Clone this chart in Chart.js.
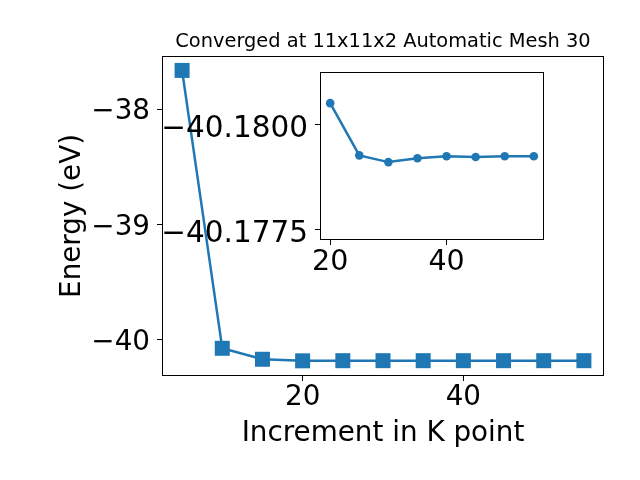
<!DOCTYPE html>
<html>
<head>
<meta charset="utf-8">
<title>K point convergence</title>
<script src="https://cdn.jsdelivr.net/npm/chart.js@4.4.1/dist/chart.umd.min.js"></script>
<style>
  html, body { margin: 0; padding: 0; background: #fff; }
  #wrap { position: relative; width: 640px; height: 480px; }
  #wrap canvas { position: absolute; left: 0; top: 0; }
</style>
</head>
<body>
<div id="wrap">
  <canvas id="main-chart" width="640" height="480"></canvas>
  <canvas id="inset-chart" width="640" height="480"></canvas>
</div>
<script>
// ============================================================
// K-point convergence: total energy vs. mesh increment
// ============================================================

// main series
const kPoints = [5, 10, 15, 20, 25, 30, 35, 40, 45, 50, 55];
const energy = [-37.664, -40.072, -40.167, -40.18050, -40.17926, -40.17910, -40.17919, -40.17924, -40.17922, -40.17924, -40.17924];

// inset: zoom on the converged tail
const insetK = [20, 25, 30, 35, 40, 45, 50, 55];
const insetEnergy = [-40.18050, -40.17926, -40.17910, -40.17919, -40.17924, -40.17922, -40.17924, -40.17924];

// tick labels
const mainXTicks = [20, 40];
const mainYTicks = [-40, -39, -38];
const insetXTicks = [20, 40];
const insetYTicks = [-40.1800, -40.1775];

const BLUE = '#1f77b4';
const FONT = 'DejaVu Sans';
const TICK_SIZE = 27.8;

const minus = s => String(s).replace('-', '\u2212');
const toPoints = (xs, ys) => xs.map((x, i) => ({ x, y: ys[i] }));
const fixTicks = list => scale => { scale.ticks = list.map(v => ({ value: v })); };

// white axes background + full box spines like matplotlib
const framePlugin = {
  id: 'frame',
  beforeDraw(chart, args, opts) {
    if (!opts.fill) return;
    const { ctx, chartArea: a } = chart;
    ctx.save();
    ctx.fillStyle = '#fff';
    ctx.fillRect(a.left, a.top, a.right - a.left, a.bottom - a.top);
    ctx.restore();
  },
  afterDatasetsDraw(chart) {
    const { ctx, chartArea: a } = chart;
    const l = Math.round(a.left) + 0.5, t = Math.round(a.top) + 0.5;
    const r = Math.round(a.right) - 0.5, b = Math.round(a.bottom) - 0.5;
    ctx.save();
    ctx.strokeStyle = '#000';
    ctx.lineWidth = 1;
    ctx.strokeRect(l, t, r - l, b - t);
    ctx.restore();
  },
};

function axisBase(extra) {
  return Object.assign({
    type: 'linear',
    border: { display: false },
    grid: { drawOnChartArea: false, drawTicks: true, tickLength: 5, color: '#000', lineWidth: 1 },
  }, extra);
}

// ---------- main chart ----------
new Chart(document.getElementById('main-chart'), {
  type: 'line',
  data: {
    datasets: [{
      data: toPoints(kPoints, energy),
      borderColor: BLUE, backgroundColor: BLUE,
      borderWidth: 2.5,
      pointStyle: 'rect', pointRadius: 10.6, pointBorderWidth: 0,
      pointBackgroundColor: BLUE,
      tension: 0,
    }],
  },
  options: {
    responsive: false, animation: false, events: [],
    layout: { padding: { top: 0, right: 36, bottom: 0, left: 0 } },
    plugins: {
      legend: { display: false },
      tooltip: { enabled: false },
      frame: { fill: false },
      title: {
        display: true, fullSize: false,
        text: 'Converged at 11x11x2 Automatic Mesh 30',
        color: '#000', font: { family: FONT, size: 19.4, weight: 'normal', lineHeight: 1.2 },
        padding: { top: 30.8, bottom: 1.8 },
      },
    },
    scales: {
      x: axisBase({
        min: 2.5, max: 57.5,
        afterBuildTicks: fixTicks(mainXTicks),
        afterFit: s => { s.height = 104; },
        ticks: { color: '#000', autoSkip: false, maxRotation: 0, padding: 3,
          font: { family: FONT, size: TICK_SIZE, lineHeight: 1 }, callback: v => minus(v) },
        title: { display: true, text: 'Increment in K point', color: '#000',
          font: { family: FONT, size: 27.8, lineHeight: 1.2 }, padding: { top: 0, bottom: 30 } },
      }),
      y: axisBase({
        min: -40.312, max: -37.538,
        afterBuildTicks: fixTicks(mainYTicks),
        afterFit: s => { s.width = 162; },
        ticks: { color: '#000', autoSkip: false, padding: 7, labelOffset: 3,
          font: { family: FONT, size: TICK_SIZE, lineHeight: 1 }, callback: v => minus(v) },
        title: { display: true, text: 'Energy (eV)', color: '#000',
          font: { family: FONT, size: 27.8, lineHeight: 1.2 }, padding: { top: 56, bottom: 0 } },
      }),
    },
  },
  plugins: [framePlugin],
});

// ---------- inset ----------
new Chart(document.getElementById('inset-chart'), {
  type: 'line',
  data: {
    datasets: [{
      data: toPoints(insetK, insetEnergy),
      borderColor: BLUE, backgroundColor: BLUE,
      borderWidth: 2.5,
      pointStyle: 'circle', pointRadius: 4.3, pointBorderWidth: 0,
      pointBackgroundColor: BLUE,
      tension: 0,
    }],
  },
  options: {
    responsive: false, animation: false, events: [],
    layout: { padding: { top: 72, right: 96, bottom: 0, left: 0 } },
    plugins: {
      legend: { display: false },
      tooltip: { enabled: false },
      frame: { fill: true },
    },
    scales: {
      x: axisBase({
        min: 18.25, max: 56.75,
        afterBuildTicks: fixTicks(insetXTicks),
        afterFit: s => { s.height = 240; },
        ticks: { color: '#000', autoSkip: false, maxRotation: 0, padding: 3,
          font: { family: FONT, size: 28.5, lineHeight: 1 }, callback: v => minus(v) },
      }),
      y: axisBase({
        reverse: true,
        min: -40.18124, max: -40.17725,
        afterBuildTicks: fixTicks(insetYTicks),
        afterFit: s => { s.width = 320; },
        ticks: { color: '#000', autoSkip: false, padding: 7, labelOffset: 5,
          font: { family: FONT, size: 29.5, lineHeight: 1 }, callback: v => minus(v.toFixed(4)) },
      }),
    },
  },
  plugins: [framePlugin],
});
</script>
</body>
</html>
